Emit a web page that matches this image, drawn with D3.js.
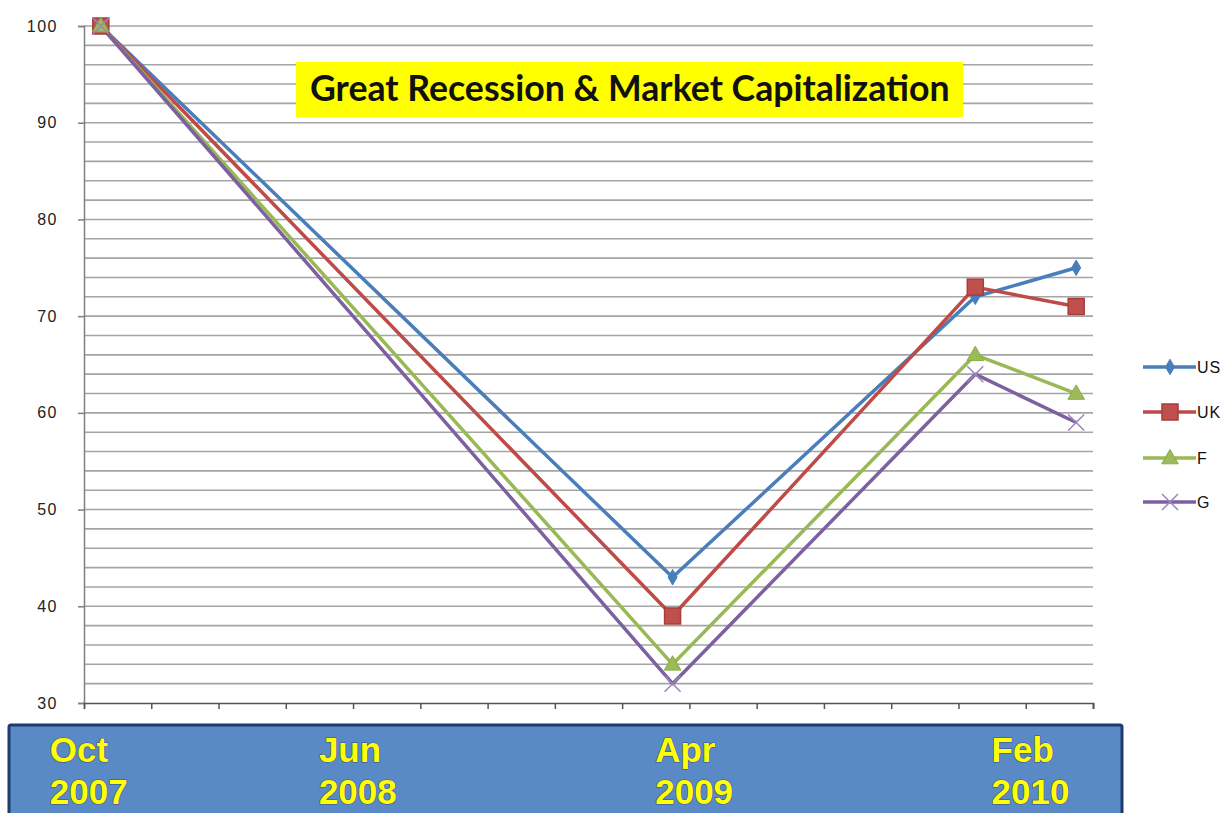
<!DOCTYPE html>
<html><head><meta charset="utf-8">
<script src="https://cdn.jsdelivr.net/npm/d3@7"></script>
<style>html,body{margin:0;padding:0;background:#fff;}svg{display:block;}</style>
</head><body>
<svg id="chart" width="1229" height="813"></svg>
<script>
// ---- data ----
const monthsFromOct2007 = [0, 17, 26, 29];
const seriesNames = ["US", "UK", "F", "G"];
const usValues = [100, 43, 72, 75];
const ukValues = [100, 39, 73, 71];
const fValues = [100, 34, 66, 62];
const gValues = [100, 32, 64, 59];
const yTicks = [30, 40, 50, 60, 70, 80, 90, 100];
const bandLabels = [["Oct", "2007", 0], ["Jun", "2008", 8], ["Apr", "2009", 18], ["Feb", "2010", 28]];
const titleText = "Great Recession & Market Capitalization";

const colors = {US: "#4a7ebb", UK: "#be4b48", F: "#98b954", G: "#7d60a0"};
const markers = {US: "diamond", UK: "square", F: "triangle", G: "x"};
const allValues = {US: usValues, UK: ukValues, F: fValues, G: gValues};

const svg = d3.select("#chart");
const pL = 84, pR = 1093, pT = 26, pB = 703;
const x = d3.scaleLinear().domain([-0.5, 29.5]).range([pL, pR]);
const y = d3.scaleLinear().domain([30, 100]).range([pB, pT]);

// gridlines every 2
const gridVals = d3.range(32, 101, 2);
svg.append("g").selectAll("line").data(gridVals).join("line")
  .attr("x1", pL).attr("x2", pR)
  .attr("y1", d => y(d)).attr("y2", d => y(d))
  .attr("stroke", "#a5a5a5").attr("stroke-width", 1.6);

// y axis
const yAxis = d3.axisLeft(y).tickValues(yTicks).tickSize(6).tickPadding(20).tickFormat(d3.format("d"));
const gy = svg.append("g").attr("transform", `translate(${pL},0)`).call(yAxis);
gy.select(".domain").attr("stroke", "#7f7f7f").attr("stroke-width", 1.5);
gy.selectAll(".tick line").attr("stroke", "#7f7f7f").attr("stroke-width", 1.5);
gy.selectAll("text").attr("font-family", "Arial, 'Liberation Sans', sans-serif").attr("font-size", 16)
  .attr("letter-spacing", 1.5).attr("fill", "#222");

// x axis with ticks every 2 months
const xAxis = d3.axisBottom(x).tickValues(d3.range(-0.5, 29.6, 2).concat([29.5])).tickSize(6).tickFormat("");
const gx = svg.append("g").attr("transform", `translate(0,${pB})`).call(xAxis);
gx.select(".domain").attr("stroke", "#555").attr("stroke-width", 1.5);
gx.selectAll(".tick line").attr("stroke", "#555").attr("stroke-width", 1.5);

// title box
const tg = svg.append("g");
tg.append("rect").attr("x", 296).attr("y", 62).attr("width", 667).attr("height", 55).attr("fill", "#ffff00");
const ttext = tg.append("text").attr("x", 310).attr("y", 101)
  .attr("font-family", "Lato, 'Open Sans', sans-serif").attr("font-weight", "bold")
  .attr("font-size", 28).attr("fill", "#111").text(titleText);
const tw = ttext.node().getComputedTextLength();
ttext.attr("font-size", 28 * 640 / tw);

// lines
const line = d3.line().x((d, i) => x(monthsFromOct2007[i])).y(d => y(d));
seriesNames.forEach(name => {
  svg.append("path").datum(allValues[name]).attr("d", line)
    .attr("fill", "none").attr("stroke", colors[name]).attr("stroke-width", 3.5)
    .attr("stroke-linejoin", "round");
});

function drawMarker(g, type, cx, cy, color) {
  if (type === "diamond") {
    g.append("path").attr("d", d3.symbol(d3.symbolDiamond, 70)())
      .attr("transform", `translate(${cx},${cy})`).attr("fill", color).attr("stroke", color).attr("stroke-width", 1);
  } else if (type === "square") {
    g.append("rect").attr("x", cx - 8).attr("y", cy - 8).attr("width", 16).attr("height", 16)
      .attr("fill", "#c0504d").attr("stroke", "#a83d3a").attr("stroke-width", 1.5);
  } else if (type === "triangle") {
    g.append("path").attr("d", d3.symbol(d3.symbolTriangle, 120)())
      .attr("transform", `translate(${cx},${cy + 1})`).attr("fill", "#9bbb59").attr("stroke", "#8aad48").attr("stroke-width", 1);
  } else {
    g.append("path").attr("d", `M${cx-8},${cy-8}L${cx+8},${cy+8}M${cx-8},${cy+8}L${cx+8},${cy-8}`)
      .attr("stroke", "#9a85bd").attr("stroke-width", 1.5).attr("fill", "none");
  }
}
const mg = svg.append("g");
seriesNames.forEach(name => {
  allValues[name].forEach((v, i) => drawMarker(mg, markers[name], x(monthsFromOct2007[i]), y(v), colors[name]));
});

// legend
const legendY = [367, 412, 458, 502];
const lg = svg.append("g");
seriesNames.forEach((name, i) => {
  lg.append("line").attr("x1", 1143).attr("x2", 1196).attr("y1", legendY[i]).attr("y2", legendY[i])
    .attr("stroke", colors[name]).attr("stroke-width", 3.5);
  drawMarker(lg, markers[name], 1170, legendY[i], colors[name]);
  lg.append("text").attr("x", 1197).attr("y", legendY[i] + 6)
    .attr("font-family", "Arial, 'Liberation Sans', sans-serif").attr("font-size", 16)
    .attr("letter-spacing", 1).attr("fill", "#111").text(name);
});

// bottom blue band
const bg = svg.append("g");
bg.append("rect").attr("x", 9).attr("y", 725).attr("width", 1113).attr("height", 100).attr("rx", 2)
  .attr("fill", "#5a8ac6").attr("stroke", "#1f3a6e").attr("stroke-width", 3);
bandLabels.forEach(([m, yr, mo]) => {
  const lx = x(mo) - 51;
  [[m, 762], [yr, 804]].forEach(([t, ty]) => {
    bg.append("text").attr("x", lx).attr("y", ty)
      .attr("font-family", "Arial, 'Liberation Sans', sans-serif").attr("font-weight", "bold")
      .attr("font-size", 35).attr("fill", "#ffff00")
      .attr("stroke", "#3a4f8a").attr("stroke-width", 1.2).attr("paint-order", "stroke")
      .text(t);
  });
});
</script>
</body></html>
